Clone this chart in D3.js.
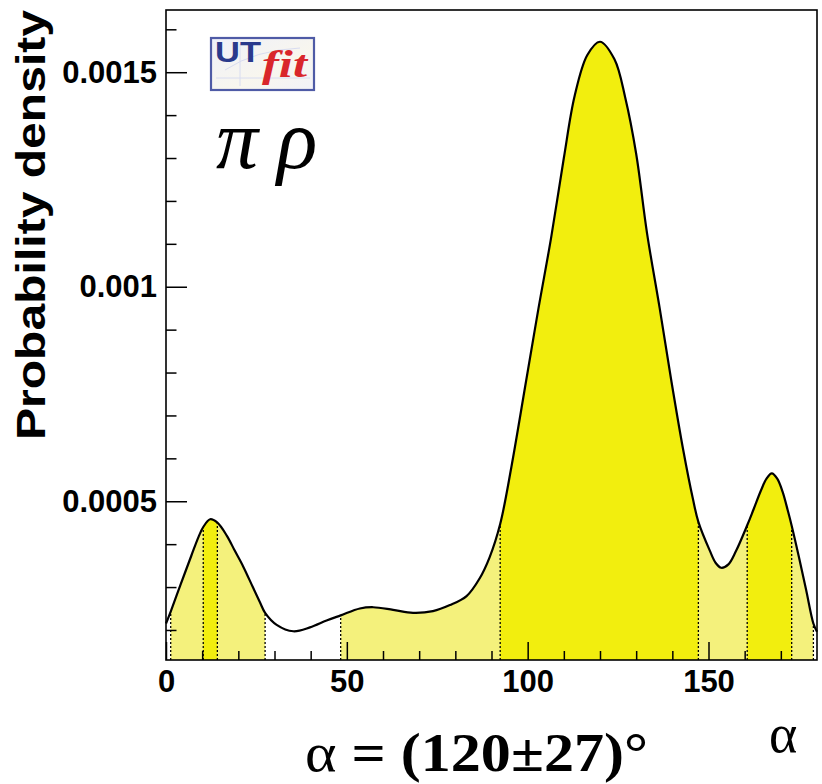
<!DOCTYPE html>
<html>
<head>
<meta charset="utf-8">
<script src="https://cdn.jsdelivr.net/npm/d3@7/dist/d3.min.js"></script>
<style>
  html, body { margin: 0; padding: 0; background: #fff; }
  svg { display: block; }
</style>
</head>
<body>
<svg id="chart" width="822" height="784"></svg>
<script>
// ---- data ----
const alphaValues = [0, 1.3, 4, 7, 9, 10.3, 12.2, 14.2, 16.8, 19, 21.4, 24, 26, 27.4, 30.6, 35.2, 39.8, 44.4, 48.3,
  53.6, 57.3, 62.8, 68.3, 73.8, 78.5, 83.1, 86.7, 89.5, 92.4, 95.5, 99.6, 103, 106.5, 110, 113, 116.5, 120,
  124, 127, 130, 133, 136.5, 139.7, 143, 145.7, 147.2, 150.3, 152, 153.5, 155.5, 157.6, 160.7, 162.5, 164.5,
  166, 167.5, 169, 170.5, 172, 173, 175, 177, 179, 180];
const densityValues = [0.000215, 0.000243, 0.000305, 0.000373, 0.000417, 0.000440, 0.000458, 0.000450, 0.000420,
  0.000385, 0.000347, 0.000300, 0.000264, 0.000240, 0.000212, 0.000197, 0.000206, 0.000222, 0.000234,
  0.000250, 0.000253, 0.000247, 0.000240, 0.000244, 0.000258, 0.000279, 0.000320, 0.000370, 0.000447,
  0.000580, 0.000782, 0.000950, 0.001115, 0.001300, 0.001445, 0.001540, 0.001571,
  0.001530, 0.001440, 0.001310, 0.001125, 0.000950, 0.000782, 0.000620, 0.000505, 0.000452,
  0.000386, 0.000356, 0.000345, 0.000353, 0.000384, 0.000444, 0.000482, 0.000525,
  0.000552, 0.000565, 0.000553, 0.000522, 0.000476, 0.000443, 0.000370, 0.000293, 0.000215, 0.000196];
// credibility bands (95% light, 68% dark)
const band95 = [[1.3, 27.4], [48.3, 179]];
const band68 = [[10.3, 14.2], [92.4, 147.2], [160.7, 173]];
const boundaries = [1.3, 10.3, 14.2, 27.4, 48.3, 92.4, 147.2, 160.7, 173, 179];
const xMajorTicks = [0, 50, 100, 150];
const xMajorLabels = ["0", "50", "100", "150"];
const xMinorTicks = [10, 20, 30, 40, 60, 70, 80, 90, 110, 120, 130, 140, 160, 170];
const yMajorTicks = [0.0005, 0.001, 0.0015];
const yMajorLabels = ["0.0005", "0.001", "0.0015"];
const yMinorTicks = [0.0002, 0.0003, 0.0004, 0.0006, 0.0007, 0.0008, 0.0009, 0.0011, 0.0012, 0.0013, 0.0014, 0.0016];

const data = alphaValues.map((a, i) => ({ a: a, v: densityValues[i] }));

const svg = d3.select("#chart");
const L = 166, R = 817, T = 10, B = 660;
const x = d3.scaleLinear().domain([0, 180]).range([L, R]);
const y = d3.scaleLinear().domain([0.00013, 0.001645]).range([B, T]);

const curve = d3.curveCatmullRom.alpha(0.5);
const area = d3.area().x(d => x(d.a)).y0(B).y1(d => y(d.v)).curve(curve);
const line = d3.line().x(d => x(d.a)).y(d => y(d.v)).curve(curve);

const defs = svg.append("defs");
function addBands(list, color, name) {
  list.forEach((b, i) => {
    const id = name + i;
    defs.append("clipPath").attr("id", id).append("rect")
      .attr("x", x(b[0])).attr("y", T).attr("width", x(b[1]) - x(b[0])).attr("height", B - T);
    svg.append("path").datum(data).attr("d", area)
      .attr("fill", color).attr("clip-path", `url(#${id})`);
  });
}
addBands(band95, "#f4f17c", "b95_");
addBands(band68, "#f2ee0e", "b68_");

// dotted boundaries
svg.append("g").selectAll("line").data(boundaries).join("line")
  .attr("x1", d => x(d)).attr("x2", d => x(d))
  .attr("y1", B)
  .attr("y2", d => y(data.find(p => p.a === d).v))
  .attr("stroke", "#000").attr("stroke-width", 1.3).attr("stroke-dasharray", "2,2");

// curve
svg.append("path").datum(data).attr("d", line)
  .attr("fill", "none").attr("stroke", "#000").attr("stroke-width", 2.2);

// axes
const font = "'Liberation Sans', Arial, sans-serif";
const xAxisMajor = d3.axisBottom(x).tickValues(xMajorTicks).tickSize(-18).tickPadding(10)
  .tickFormat((d, i) => xMajorLabels[i]);
const xAxisMinor = d3.axisBottom(x).tickValues(xMinorTicks).tickSize(-9).tickFormat("");
const yAxisMajor = d3.axisLeft(y).tickValues(yMajorTicks).tickSize(-21).tickPadding(9)
  .tickFormat((d, i) => yMajorLabels[i]);
const yAxisMinor = d3.axisLeft(y).tickValues(yMinorTicks).tickSize(-10.5).tickFormat("");

function styleAxis(g) {
  g.select(".domain").remove();
  g.selectAll(".tick line").attr("stroke", "#000").attr("stroke-width", 1.5);
  g.selectAll(".tick text").attr("font-family", font).attr("font-weight", "bold")
    .attr("font-size", 31).attr("fill", "#000");
}
svg.append("g").attr("transform", `translate(0,${B})`).call(xAxisMajor).call(styleAxis);
svg.append("g").attr("transform", `translate(0,${B})`).call(xAxisMinor).call(styleAxis);
svg.append("g").attr("transform", `translate(${L},0)`).call(yAxisMajor).call(styleAxis);
svg.append("g").attr("transform", `translate(${L},0)`).call(yAxisMinor).call(styleAxis);

// frame
svg.append("rect").attr("x", L).attr("y", T).attr("width", R - L).attr("height", B - T)
  .attr("fill", "none").attr("stroke", "#000").attr("stroke-width", 1.6);

// y axis title
svg.append("text")
  .attr("transform", "translate(45,440) rotate(-90)")
  .attr("font-family", font).attr("font-weight", "bold").attr("font-size", 41)
  .attr("textLength", 430).attr("lengthAdjust", "spacingAndGlyphs")
  .text("Probability density");

// UTfit logo
const grad = defs.append("linearGradient").attr("id", "logoBg").attr("x1", 0).attr("y1", 0).attr("x2", 1).attr("y2", 1);
grad.append("stop").attr("offset", "0%").attr("stop-color", "#eef0fa");
grad.append("stop").attr("offset", "60%").attr("stop-color", "#f8f6ee");
grad.append("stop").attr("offset", "100%").attr("stop-color", "#f2f2f8");
const logo = svg.append("g");
logo.append("rect").attr("x", 211).attr("y", 38).attr("width", 103).attr("height", 52)
  .attr("fill", "url(#logoBg)").attr("stroke", "#4f5ba6").attr("stroke-width", 2.2);
logo.append("path").attr("d", "M216,78 L310,78 M240,44 L240,86 M225,70 Q255,50 300,48")
  .attr("fill", "none").attr("stroke", "#d8dcf0").attr("stroke-width", 1);
logo.append("text").attr("x", 215).attr("y", 62)
  .attr("font-family", font).attr("font-weight", "bold").attr("font-size", 29)
  .attr("textLength", 46).attr("lengthAdjust", "spacingAndGlyphs")
  .attr("fill", "#2a3a8c").text("UT");
logo.append("text").attr("x", 262).attr("y", 77)
  .attr("font-family", "'Liberation Serif', serif").attr("font-style", "italic").attr("font-weight", "bold")
  .attr("font-size", 38).attr("textLength", 45).attr("lengthAdjust", "spacingAndGlyphs")
  .attr("fill", "#d9262b").text("fit");

// channel label
const chan = svg.append("text").attr("y", 168)
  .attr("font-family", "'Liberation Serif', serif").attr("font-style", "italic").attr("font-size", 84)
  .attr("fill", "#000");
chan.append("tspan").attr("x", 216).text("π");
chan.append("tspan").attr("x", 277).text("ρ");

// result
const res = svg.append("text").attr("x", 305).attr("y", 771)
  .attr("font-family", "'Liberation Serif', 'Times New Roman', serif").attr("font-size", 54)
  .attr("textLength", 343).attr("lengthAdjust", "spacingAndGlyphs").attr("fill", "#000");
res.append("tspan").text("α");
res.append("tspan").attr("font-weight", "bold").text(" = (120±27)°");

// x axis title
svg.append("text").attr("x", 769).attr("y", 752)
  .attr("font-family", "'Liberation Serif', 'Times New Roman', serif").attr("font-size", 54)
  .attr("fill", "#000").text("α");
</script>
</body>
</html>
